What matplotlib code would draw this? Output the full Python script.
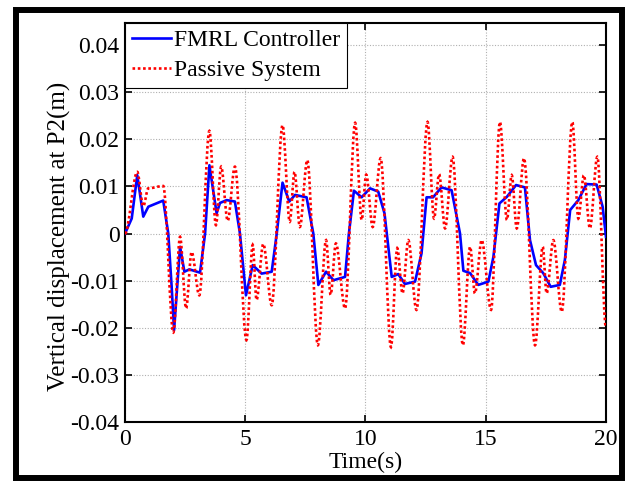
"""
Vertical displacement at P2: FMRL controller vs passive system
"""

import matplotlib
matplotlib.use("Agg")
import matplotlib.pyplot as plt
from matplotlib.lines import Line2D
from matplotlib.patches import Rectangle, PathPatch
from matplotlib.path import Path

# FMRL controller response (time in s, displacement in m)
fmrl_time = [
    0.0, 0.28, 0.51, 0.76, 0.97, 1.59, 1.80, 1.94, 2.04, 2.29, 2.47, 2.68, 3.12,
    3.33, 3.51, 3.81, 3.95, 4.23, 4.57, 4.78, 5.03, 5.31, 5.68, 6.10, 6.31, 6.55,
    6.83, 7.07, 7.55, 7.83, 8.04, 8.36, 8.67, 9.15, 9.31, 9.52, 9.84, 10.19,
    10.53, 10.79, 11.09, 11.36, 11.64, 12.06, 12.33, 12.54, 12.81, 13.16, 13.58,
    13.93, 14.07, 14.35, 14.69, 15.11, 15.32, 15.57, 15.88, 16.26, 16.63, 16.84,
    17.09, 17.39, 17.70, 18.08, 18.29, 18.51, 18.85, 19.19, 19.61, 19.86, 20.0,
]
fmrl_disp = [
    0.0, 0.0032, 0.0124, 0.0036, 0.0057, 0.0070, 0.0, -0.0113, -0.0205, -0.0028,
    -0.0081, -0.0076, -0.0083, 0.0, 0.0145, 0.0043, 0.0065, 0.0071, 0.0068, 0.0,
    -0.0131, -0.0067, -0.0085, -0.0081, 0.0, 0.0108, 0.0068, 0.0082, 0.0077, 0.0,
    -0.0109, -0.0081, -0.0099, -0.0092, 0.0, 0.0091, 0.0077, 0.0096, 0.0089,
    0.0043, -0.0092, -0.0086, -0.0107, -0.0102, -0.0042, 0.0077, 0.0077, 0.0098,
    0.0092, 0.0, -0.0079, -0.0084, -0.0109, -0.0102, -0.0049, 0.0064, 0.0078,
    0.0103, 0.0098, -0.0014, -0.0067, -0.0084, -0.0113, -0.0109, -0.0056, 0.0050,
    0.0071, 0.0105, 0.0104, 0.0057, -0.0007,
]

# passive system response: turning points of the oscillation
passive_time = [
    0.0, 0.51, 0.76, 0.97, 1.59, 2.01, 2.29, 2.54, 2.77, 3.09, 3.51,
    3.78, 4.00, 4.27, 4.57, 5.05, 5.31, 5.47, 5.75, 6.10, 6.55, 6.85, 7.05, 7.27,
    7.58, 8.02, 8.36, 8.55, 8.77, 9.15, 9.57, 9.84, 10.03, 10.30, 10.63, 11.06,
    11.32, 11.54, 11.78, 12.12, 12.58, 12.85, 13.06, 13.31, 13.62, 14.05, 14.35,
    14.55, 14.83, 15.22, 15.59, 15.88, 16.08, 16.29, 16.59, 17.05, 17.37, 17.53,
    17.81, 18.16, 18.60, 18.85, 19.08, 19.33, 19.64, 20.0,
]
passive_disp = [
    0.0, 0.0131, 0.0058, 0.0096, 0.0101, -0.0210, -0.0007,
    -0.0159, -0.0039, -0.0131, 0.0218, 0.0018, 0.0142, 0.0027, 0.0142, -0.0226,
    -0.0024, -0.0141, -0.0022, -0.0152, 0.0230, 0.0025, 0.0131, 0.0014, 0.0156,
    -0.0237, -0.0014, -0.0130, -0.0021, -0.0159, 0.0235, 0.0029, 0.0125, 0.0014,
    0.0160, -0.0241, -0.0031, -0.0127, -0.0014, -0.0162, 0.0237, 0.0032, 0.0126,
    0.0011, 0.0163, -0.0237, -0.0028, -0.0127, -0.0014, -0.0162, 0.0237, 0.0029,
    0.0124, 0.0011, 0.0160, -0.0237, -0.0028, -0.0127, -0.0014, -0.0166, 0.0237,
    0.0032, 0.0124, 0.0011, 0.0163, -0.0200,
]

x_ticks = [0, 5, 10, 15, 20]
y_ticks = [-0.04, -0.03, -0.02, -0.01, 0, 0.01, 0.02, 0.03, 0.04]
y_tick_labels = ["-0.04", "-0.03", "-0.02", "-0.01", "0", "0.01", "0.02", "0.03", "0.04"]


def turning_point_path(t, v):
    # cubic segments with flat tangents at every turning point
    verts = [(t[0], v[0])]
    codes = [Path.MOVETO]
    for i in range(1, len(t)):
        dt = t[i] - t[i - 1]
        verts += [(t[i - 1] + dt / 3, v[i - 1]), (t[i] - dt / 3, v[i]), (t[i], v[i])]
        codes += [Path.CURVE4] * 3
    return Path(verts, codes)


def main():
    plt.rcParams["font.family"] = ["Liberation Serif", "DejaVu Serif"]
    plt.rcParams["font.size"] = 17

    fig = plt.figure(figsize=(6.3, 4.83), dpi=100)
    ax = fig.add_axes([0.1984, 0.1263, 0.7635, 0.8261])

    blue = "#0000ff"
    red = "#ff0000"
    red_style = (0, (1, 1))

    ax.plot(fmrl_time, fmrl_disp, color=blue, lw=1.9, zorder=3)
    ax.add_patch(PathPatch(turning_point_path(passive_time, passive_disp), fill=False,
                           edgecolor=red, lw=1.9, linestyle=red_style, zorder=4))

    ax.set_xlim(0, 20)
    ax.set_ylim(-0.04, 0.0447)
    ax.set_xticks(x_ticks)
    ax.set_yticks(y_ticks)
    ax.set_yticklabels(y_tick_labels)
    ax.tick_params(direction="in", top=True, right=True, length=5, width=1.2)
    ax.tick_params(axis="x", pad=5)
    ax.tick_params(axis="y", pad=4)

    ax.grid(True, linestyle=(0, (1, 1.5)), color="#b0b0b0", lw=0.8)
    for spine in ax.spines.values():
        spine.set_linewidth(1.5)

    ax.set_xlabel("Time(s)")
    ax.xaxis.set_label_coords(0.5, -0.075)
    ax.set_ylabel("Vertical displacement at P2(m)", fontsize=18)
    ax.yaxis.set_label_coords(-0.112, 0.464)

    handles = [
        Line2D([], [], color=blue, lw=1.9),
        Line2D([], [], color=red, lw=1.9, linestyle=red_style),
    ]
    leg = ax.legend(handles, ["FMRL Controller", "Passive System"], loc="upper left",
                    borderaxespad=0, fancybox=False, handlelength=1.65,
                    handletextpad=0.15, borderpad=0.28, labelspacing=0.36,
                    framealpha=1)
    leg.get_frame().set_edgecolor("black")
    leg.get_frame().set_linewidth(0.8)
    leg.set_zorder(5)

    # thick black frame round the whole picture
    frame = Rectangle((0.0254, 0.0104), 0.9619, 0.9689, transform=fig.transFigure,
                      fill=False, edgecolor="black", lw=4.3)
    fig.patches.append(frame)

    fig.savefig("out.png", dpi=100)
    plt.close(fig)


if __name__ == "__main__":
    main()
